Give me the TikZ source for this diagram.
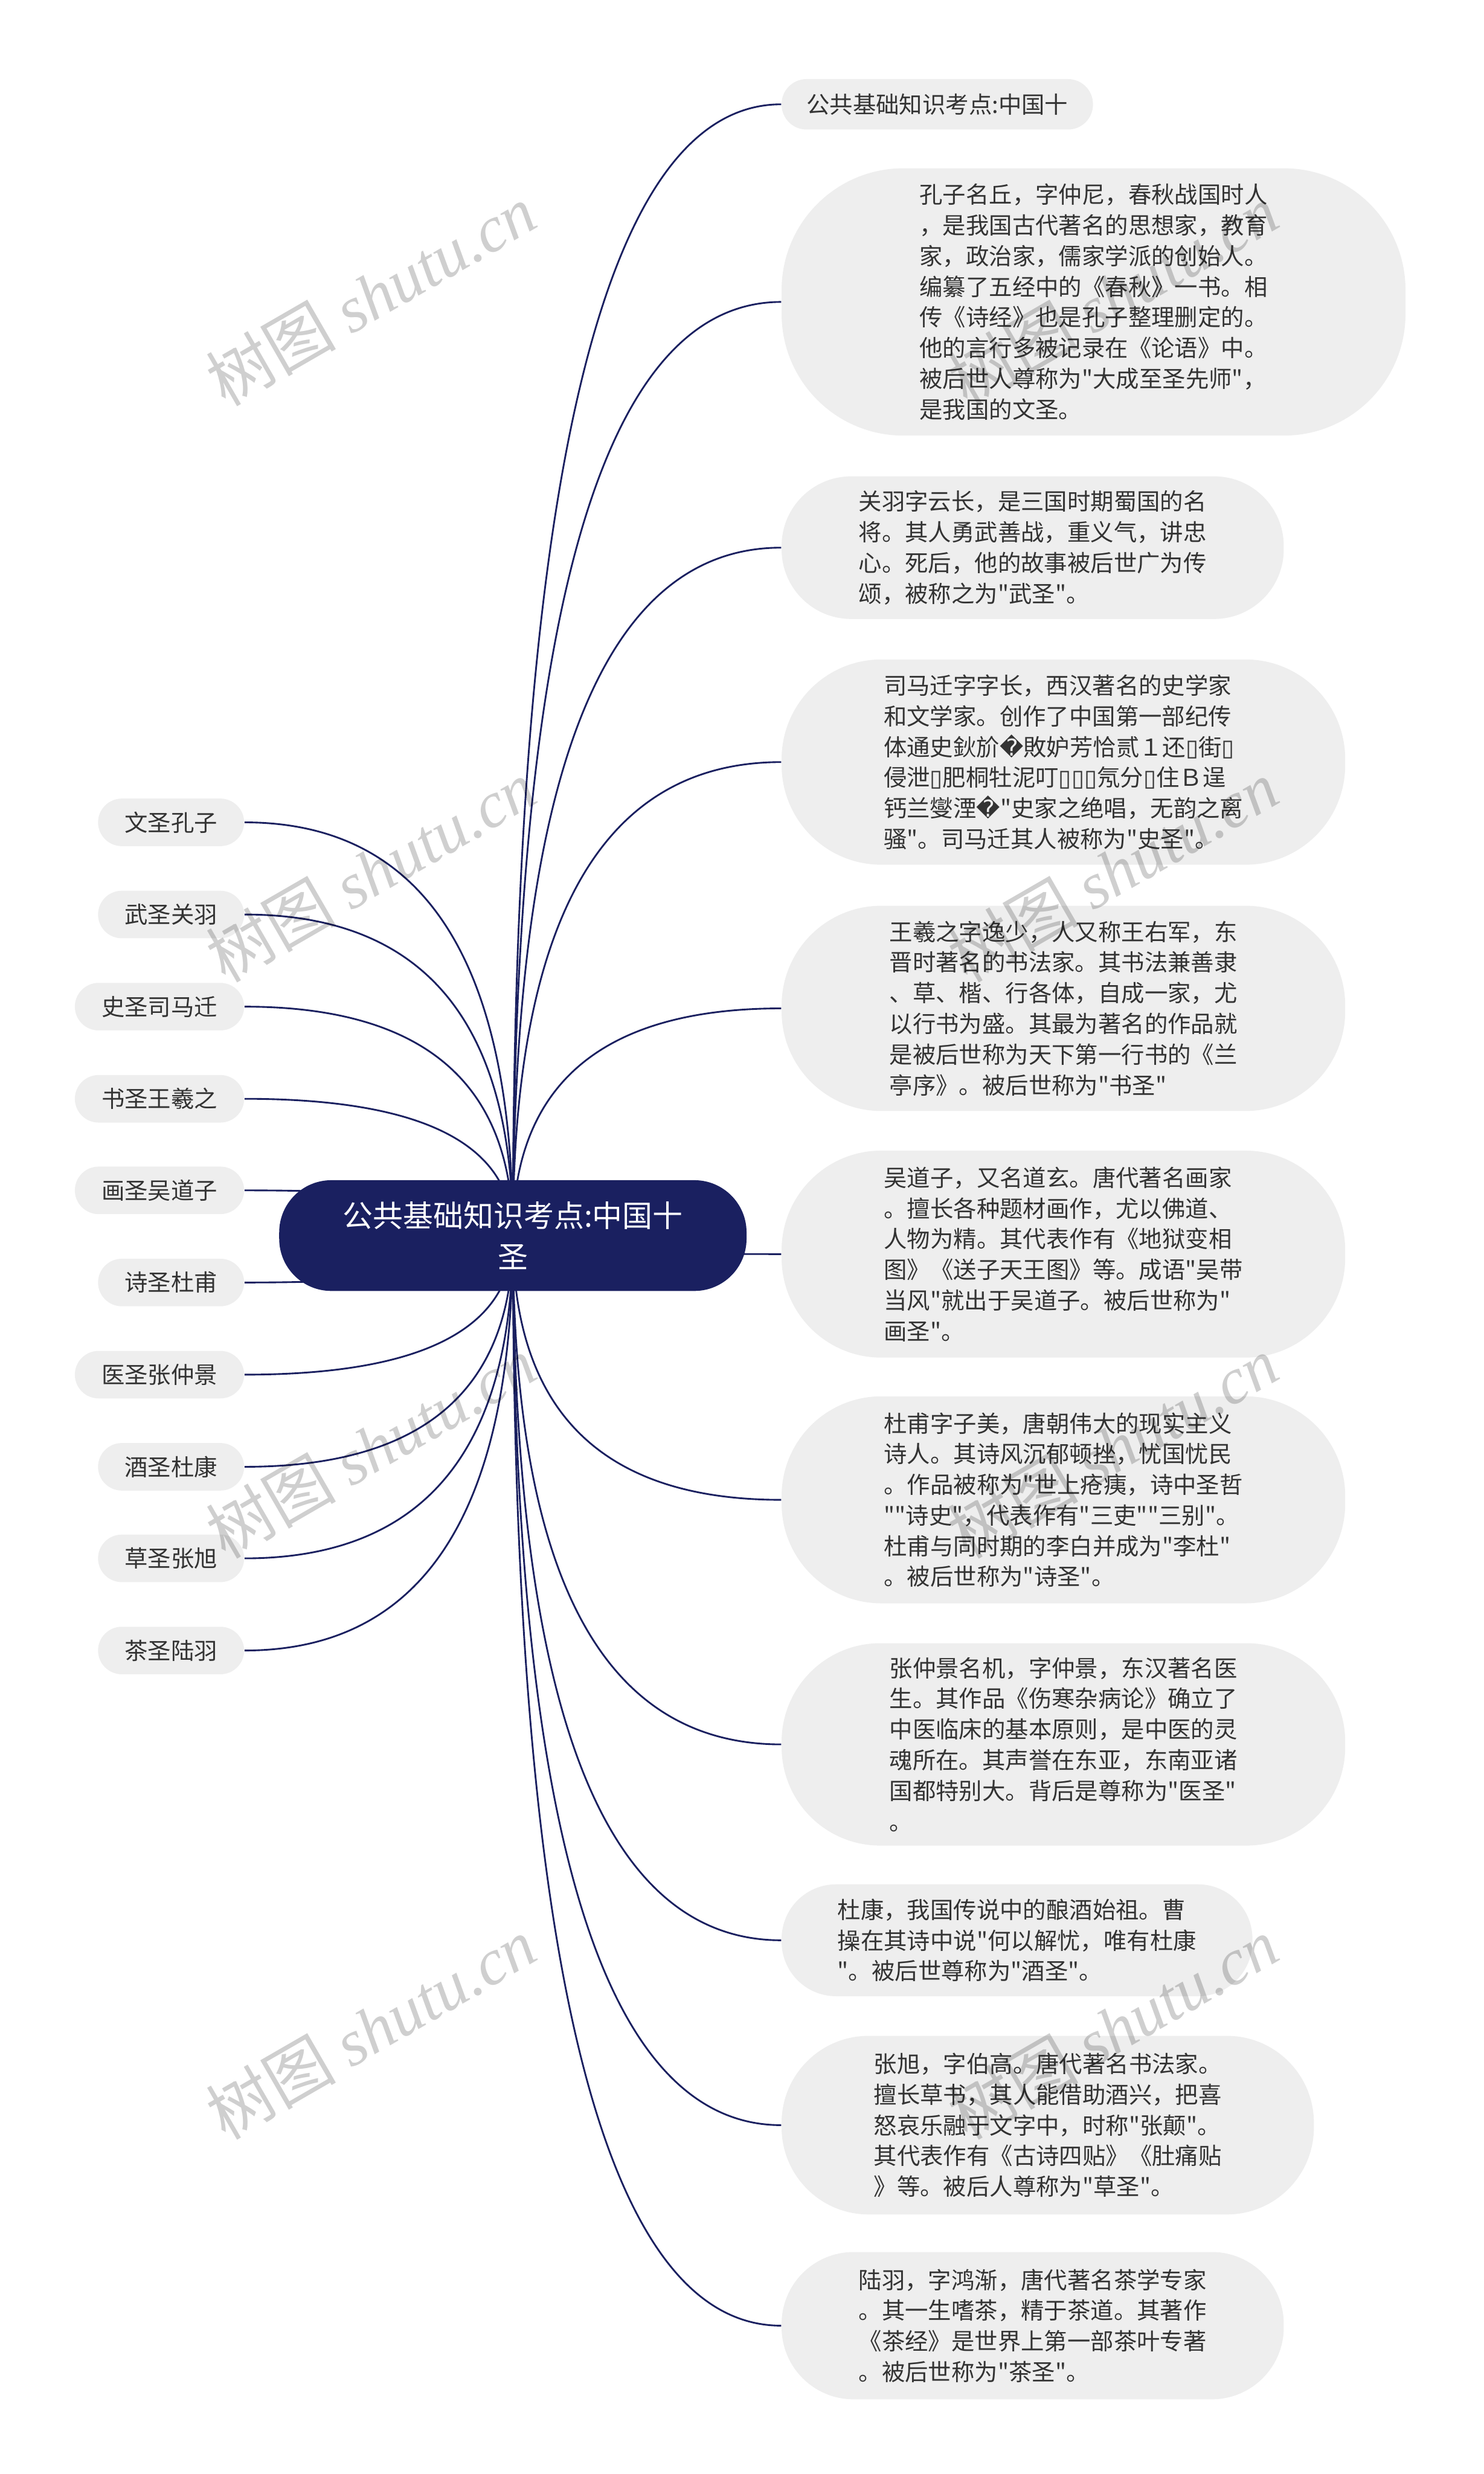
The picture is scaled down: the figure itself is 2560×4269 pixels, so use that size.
\documentclass[tikz,border=0pt]{standalone}
\usepackage{fontspec}
\setmainfont{Noto Sans CJK SC}
\newfontfamily\cjk{Noto Sans CJK SC}
\newfontfamily\djvfont{DejaVu Sans}
\newfontfamily\wmserif{Liberation Serif}
\usetikzlibrary{calc}
\definecolor{navy}{RGB}{26,32,96}
\definecolor{nodegray}{RGB}{238,238,238}
\definecolor{txtgray}{RGB}{51,51,51}
\pgfdeclarelayer{bg}
\pgfdeclarelayer{fg}
\pgfsetlayers{bg,main,fg}
\newcommand{\tofu}{{\djvfont ▯}}
\newcommand{\badq}{{\djvfont �}}
\begin{document}
\begin{tikzpicture}[x=0.01cm,y=-0.01cm,
  leaf/.style={fill=nodegray, text=txtgray, rounded corners=0.41cm, minimum height=0.82cm,
    inner xsep=0.46cm, inner ysep=0pt, font=\cjk\fontsize{11.38}{15}\selectfont, anchor=east},
  card/.style={fill=nodegray, text=txtgray, align=left, inner sep=0pt,
    font=\cjk\fontsize{11.38}{15.05}\selectfont, anchor=west},
  conn/.style={draw=navy, line width=0.85pt},
  wm/.style={text=black, text opacity=0.19, rotate=30, font=\cjk\fontsize{32}{36}\selectfont}]
\useasboundingbox (0,0) rectangle (2560,4269);
\coordinate (hub) at (885,2132);

% central node
\node[fill=navy, text=white, rounded corners=0.9cm, minimum width=8.06cm, minimum height=1.91cm,
  align=center, inner sep=0pt, font=\cjk\fontsize{14.8}{20.2}\selectfont] (C) at (885,2132)
  {公共基础知识考点:中国十\\圣};

% left leaves
\node[leaf] (L1) at (422,1419) {文圣孔子};
\node[leaf] (L2) at (422,1578) {武圣关羽};
\node[leaf] (L3) at (422,1737) {史圣司马迁};
\node[leaf] (L4) at (422,1896) {书圣王羲之};
\node[leaf] (L5) at (422,2054) {画圣吴道子};
\node[leaf] (L6) at (422,2213) {诗圣杜甫};
\node[leaf] (L7) at (422,2372) {医圣张仲景};
\node[leaf] (L8) at (422,2531) {酒圣杜康};
\node[leaf] (L9) at (422,2689) {草圣张旭};
\node[leaf] (L10) at (422,2848) {茶圣陆羽};

% right cards
\node[card, minimum width=5.37cm, minimum height=0.87cm, rounded corners=0.43cm] (R1) at (1348,180)
  {公共基础知识考点:中国十};
\node[card, minimum width=10.76cm, minimum height=4.61cm, rounded corners=2.1cm] (R2) at (1348,521)
  {孔子名丘，字仲尼，春秋战国时人\\，是我国古代著名的思想家，教育\\家，政治家，儒家学派的创始人。\\编纂了五经中的《春秋》一书。相\\传《诗经》也是孔子整理删定的。\\他的言行多被记录在《论语》中。\\被后世人尊称为"大成至圣先师"，\\是我国的文圣。};
\node[card, minimum width=8.66cm, minimum height=2.46cm, rounded corners=1.2cm] (R3) at (1348,945)
  {关羽字云长，是三国时期蜀国的名\\将。其人勇武善战，重义气，讲忠\\心。死后，他的故事被后世广为传\\颂，被称之为"武圣"。};
\node[card, minimum width=9.72cm, minimum height=3.54cm, rounded corners=1.72cm] (R4) at (1348,1315)
  {司马迁字字长，西汉著名的史学家\\和文学家。创作了中国第一部纪传\\体通史鈥斺\badq{}敗妒芳恰贰１还\tofu{}街\tofu\\侵泄\tofu{}肥桐牡泥叮\tofu\tofu\tofu{}氖分\tofu{}住Ｂ逞\\钙兰燮湮\badq{}"史家之绝唱，无韵之离\\骚"。司马迁其人被称为"史圣"。};
\node[card, minimum width=9.72cm, minimum height=3.54cm, rounded corners=1.72cm] (R5) at (1348,1740)
  {王羲之字逸少，人又称王右军，东\\晋时著名的书法家。其书法兼善隶\\、草、楷、行各体，自成一家，尤\\以行书为盛。其最为著名的作品就\\是被后世称为天下第一行书的《兰\\亭序》。被后世称为"书圣"};
\node[card, minimum width=9.72cm, minimum height=3.57cm, rounded corners=1.72cm] (R6) at (1348,2164)
  {吴道子，又名道玄。唐代著名画家\\。擅长各种题材画作，尤以佛道、\\人物为精。其代表作有《地狱变相\\图》《送子天王图》等。成语"吴带\\当风"就出于吴道子。被后世称为"\\画圣"。};
\node[card, minimum width=9.72cm, minimum height=3.57cm, rounded corners=1.72cm] (R7) at (1348,2588)
  {杜甫字子美，唐朝伟大的现实主义\\诗人。其诗风沉郁顿挫，忧国忧民\\。作品被称为"世上疮痍，诗中圣哲\\""诗史"，代表作有"三吏""三别"。\\杜甫与同时期的李白并成为"李杜"\\。被后世称为"诗圣"。};
\node[card, minimum width=9.72cm, minimum height=3.49cm, rounded corners=1.7cm] (R8) at (1348,3010)
  {张仲景名机，字仲景，东汉著名医\\生。其作品《伤寒杂病论》确立了\\中医临床的基本原则，是中医的灵\\魂所在。其声誉在东亚，东南亚诸\\国都特别大。背后是尊称为"医圣"\\。};
\node[card, minimum width=8.12cm, minimum height=1.93cm, rounded corners=0.94cm] (R9) at (1348,3348)
  {杜康，我国传说中的酿酒始祖。曹\\操在其诗中说"何以解忧，唯有杜康\\"。被后世尊称为"酒圣"。};
\node[card, minimum width=9.18cm, minimum height=3.08cm, rounded corners=1.5cm] (R10) at (1348,3667)
  {张旭，字伯高。唐代著名书法家。\\擅长草书，其人能借助酒兴，把喜\\怒哀乐融于文字中，时称"张颠"。\\其代表作有《古诗四贴》《肚痛贴\\》等。被后人尊称为"草圣"。};
\node[card, minimum width=8.66cm, minimum height=2.54cm, rounded corners=1.24cm] (R11) at (1348,4013)
  {陆羽，字鸿渐，唐代著名茶学专家\\。其一生嗜茶，精于茶道。其著作\\《茶经》是世界上第一部茶叶专著\\。被后世称为"茶圣"。};

% connectors
\begin{pgfonlayer}{bg}
\foreach \n in {L1,L2,L3,L4,L5,L6,L7,L8,L9,L10}{
  \draw[conn] (hub) .. controls ($(hub)!0.6667!(hub|-\n.east)$) and ($(\n.east)!0.6667!(hub|-\n.east)$) .. (\n.east);
}
\foreach \n in {R1,R2,R3,R4,R5,R6,R7,R8,R9,R10,R11}{
  \draw[conn] (hub) .. controls ($(hub)!0.6667!(hub|-\n.west)$) and ($(\n.west)!0.6667!(hub|-\n.west)$) .. (\n.west);
}
\end{pgfonlayer}

% watermarks
\begin{pgfonlayer}{fg}
\node[wm] (W1) at (640,509) {树图 {\wmserif\itshape shutu.cn}};
\node[wm] (W2) at (640,1503) {树图 {\wmserif\itshape shutu.cn}};
\node[wm] (W3) at (640,2497) {树图 {\wmserif\itshape shutu.cn}};
\node[wm] (W4) at (640,3500) {树图 {\wmserif\itshape shutu.cn}};
\node[wm] (W5) at (1920,509) {树图 {\wmserif\itshape shutu.cn}};
\node[wm] (W6) at (1920,1503) {树图 {\wmserif\itshape shutu.cn}};
\node[wm] (W7) at (1920,2497) {树图 {\wmserif\itshape shutu.cn}};
\node[wm] (W8) at (1920,3500) {树图 {\wmserif\itshape shutu.cn}};
\end{pgfonlayer}
\end{tikzpicture}
\end{document}
